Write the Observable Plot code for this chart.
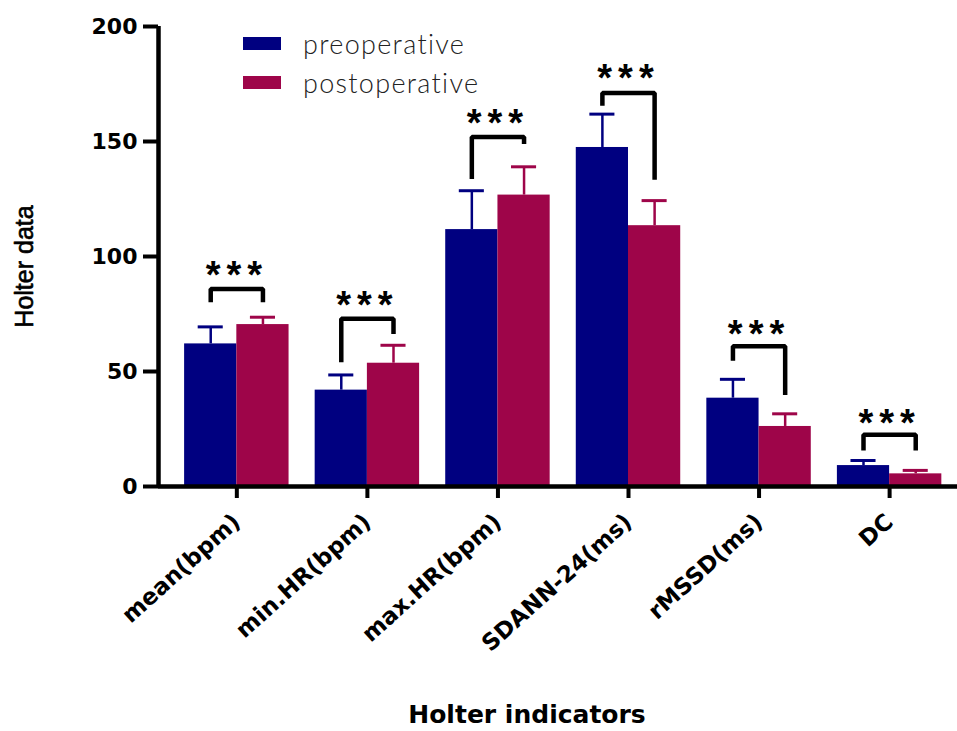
<!DOCTYPE html>
<html>
<head>
<meta charset="utf-8">
<script src="https://cdn.jsdelivr.net/npm/d3@7"></script>
<script src="https://cdn.jsdelivr.net/npm/@observablehq/plot@0.6"></script>
<style>
  html, body { margin: 0; padding: 0; background: #fff; }
  #wrap { position: relative; width: 957px; height: 731px; }
  .legend { position: absolute; left: 243px; font-family: "Lato", "DejaVu Sans", sans-serif; font-weight: 300; font-size: 27px; letter-spacing: 1.3px; color: #222; display: flex; align-items: center; white-space: nowrap; }
  .legend .sw { width: 38px; height: 13px; margin-right: 22px; }
  g[fill="#010101"] text { letter-spacing: 6px; }
</style>
</head>
<body>
<div id="wrap"></div>
<script>
// ---- data ----
const categories = ["mean(bpm)", "min.HR(bpm)", "max.HR(bpm)", "SDANN-24(ms)", "rMSSD(ms)", "DC"];
const preMean  = [62.0, 41.9, 111.7, 147.4, 38.4, 9.1];
const preSD    = [7.4, 6.6, 16.9, 14.5, 8.2, 2.2];
const postMean = [70.4, 53.6, 126.7, 113.4, 26.1, 5.5];
const postSD   = [3.2, 7.8, 12.3, 10.9, 5.5, 1.5];
// significance brackets: left leg bottom, top, right leg bottom, star label position
const bracketLeft  = [80.1, 54.0, 133.7, 165.5, 54.7, 15.6];
const bracketTop   = [85.9, 72.9, 152.0, 171.1, 61.0, 22.5];
const bracketRight = [80.1, 66.3, 148.9, 133.4, 39.8, 15.6];
const starY        = [93.6, 80.8, 159.8, 179.3, 68.2, 29.4];
const starLabel = "***";
const yTicks = [0, 50, 100, 150, 200];
const seriesNames = ["preoperative", "postoperative"];
const seriesColors = ["#000080", "#9e0549"];

// ---- derived tables ----
const xDomain = [-0.6, 5.52];
const half = 0.4, capHalf = 0.096;
const bars = [];
categories.forEach((c, i) => {
  bars.push({i, series: 0, x1: i - half, x2: i, xc: i - half / 2, v: preMean[i], sd: preSD[i]});
  bars.push({i, series: 1, x1: i, x2: i + half, xc: i + half / 2, v: postMean[i], sd: postSD[i]});
});
const brackets = [];
categories.forEach((c, i) => {
  brackets.push({i, x: i - half / 2, y: bracketLeft[i]});
  brackets.push({i, x: i - half / 2, y: bracketTop[i]});
  brackets.push({i, x: i + half / 2, y: bracketTop[i]});
  brackets.push({i, x: i + half / 2, y: bracketRight[i]});
});
const stars = categories.map((c, i) => ({i, y: starY[i]}));

const chart = Plot.plot({
  width: 957,
  height: 731,
  marginLeft: 158,
  marginRight: 0,
  marginTop: 26,
  marginBottom: 245,
  style: {fontFamily: "DejaVu Sans", fontWeight: "bold", fontSize: "22px", color: "#000", background: "#fff"},
  x: {type: "linear", domain: xDomain, axis: null},
  y: {domain: [0, 200], axis: null},
  marks: [
    Plot.rect(bars, {x1: "x1", x2: "x2", y1: 0, y2: "v", fill: d => seriesColors[d.series]}),
    Plot.ruleX(bars, {x: "xc", y1: "v", y2: d => d.v + d.sd, stroke: d => seriesColors[d.series], strokeWidth: 2.5}),
    Plot.ruleY(bars, {y: d => d.v + d.sd, x1: d => d.xc - capHalf, x2: d => d.xc + capHalf, stroke: d => seriesColors[d.series], strokeWidth: 3}),
    Plot.line(brackets, {x: "x", y: "y", z: "i", stroke: "#000", strokeWidth: 4.5, strokeLinejoin: "miter", strokeLinecap: "butt", curve: "linear"}),
    Plot.text(stars, {x: "i", y: "y", text: () => starLabel, fill: "#010101", fontFamily: "Liberation Sans", fontWeight: "bold", fontSize: 38, dy: 5}),
    Plot.ruleY([0], {stroke: "#000", strokeWidth: 4.5}),
    Plot.ruleX([xDomain[0]], {y1: 0, y2: 200, stroke: "#000", strokeWidth: 4.5}),
    Plot.axisY({ticks: yTicks, tickSize: 15, tickPadding: 6, strokeWidth: 4, label: null, fontSize: 22}),
    Plot.axisX({ticks: d3.range(categories.length), tickFormat: i => categories[i], tickSize: 12, tickPadding: 20, tickRotate: -42, strokeWidth: 4, label: null, fontSize: 23}),
    Plot.text(["Holter data"], {frameAnchor: "left", textAnchor: "middle", rotate: -90, dx: -134, dy: 10, fontFamily: "Liberation Sans", fontWeight: "normal", fontSize: 25, fill: "#000", stroke: "#000", strokeWidth: 0.6}),
    Plot.text(["Holter indicators"], {frameAnchor: "bottom", dx: -31, dy: 236, fontSize: 25, fill: "#000"})
  ]
});

const wrap = document.getElementById("wrap");
wrap.appendChild(chart);
seriesNames.forEach((name, k) => {
  const d = document.createElement("div");
  d.className = "legend";
  d.style.top = (k === 0 ? 27 : 66) + "px";
  const sw = document.createElement("span");
  sw.className = "sw";
  sw.style.background = seriesColors[k];
  d.appendChild(sw);
  d.appendChild(document.createTextNode(name));
  wrap.appendChild(d);
});
</script>
</body>
</html>
